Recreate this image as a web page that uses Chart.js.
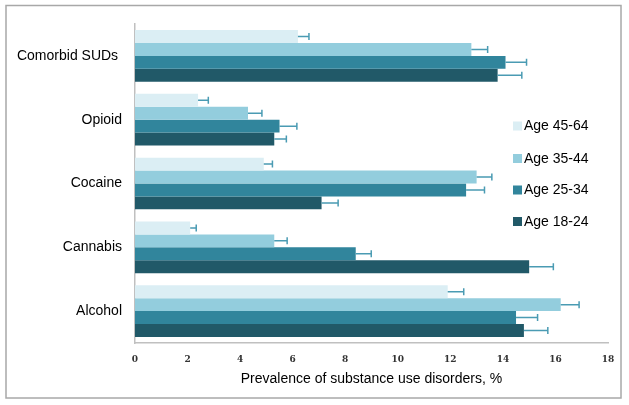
<!DOCTYPE html>
<html>
<head>
<meta charset="utf-8">
<script src="https://cdn.jsdelivr.net/npm/chart.js@4.4.1/dist/chart.umd.min.js"></script>
<style>
  html, body { margin: 0; padding: 0; background: #ffffff; }
  canvas { display: block; }
</style>
</head>
<body>
<canvas id="c" width="629" height="405"></canvas>
<script>
// ---- data ----
const categories = ["Comorbid SUDs ", "Opioid", "Cocaine", "Cannabis", "Alcohol"];
const seriesLabels = ["Age 45-64", "Age 35-44", "Age 25-34", "Age 18-24"];
const age4564 = [6.2, 2.4, 4.9, 2.1, 11.9];
const age3544 = [12.8, 4.3, 13.0, 5.3, 16.2];
const age2534 = [14.1, 5.5, 12.6, 8.4, 14.5];
const age1824 = [13.8, 5.3, 7.1, 15.0, 14.8];
const err4564 = [0.42, 0.39, 0.33, 0.23, 0.61];
const err3544 = [0.62, 0.53, 0.58, 0.49, 0.70];
const err2534 = [0.80, 0.66, 0.70, 0.59, 0.82];
const err1824 = [0.92, 0.46, 0.63, 0.92, 0.91];
const xTicks = [0, 2, 4, 6, 8, 10, 12, 14, 16, 18];

const colors = ["#DBEEF4", "#93CDDD", "#31859C", "#215968"];
const values = [age4564, age3544, age2534, age1824];
const errors = [err4564, err3544, err2534, err1824];

const frame = {
  id: 'frame',
  beforeDraw(chart) {
    const ctx = chart.ctx;
    ctx.save();
    ctx.fillStyle = '#ffffff';
    ctx.fillRect(0, 0, chart.width, chart.height);
    ctx.strokeStyle = '#a8a8a8';
    ctx.lineWidth = 1.5;
    ctx.strokeRect(6, 5.5, 615, 392.5);
    ctx.restore();
  }
};

const errorBars = {
  id: 'errorBars',
  afterDatasetsDraw(chart) {
    const ctx = chart.ctx;
    const xs = chart.scales.x;
    ctx.save();
    ctx.strokeStyle = '#4A9BB3';
    ctx.lineWidth = 1.5;
    chart.data.datasets.forEach((ds, i) => {
      const meta = chart.getDatasetMeta(i);
      meta.data.forEach((bar, j) => {
        const v = ds.data[j];
        const e = errors[i][j];
        const xe = xs.getPixelForValue(v + e);
        const y = bar.y;
        ctx.beginPath();
        ctx.moveTo(bar.x, y);
        ctx.lineTo(xe, y);
        ctx.moveTo(xe, y - 3.5);
        ctx.lineTo(xe, y + 3.5);
        ctx.stroke();
      });
    });
    ctx.restore();
  }
};

const customLegend = {
  id: 'customLegend',
  afterDraw(chart) {
    const ctx = chart.ctx;
    const ys = [126, 158.5, 190, 221.5];
    ctx.save();
    ctx.font = '14px "Liberation Sans", Arial, sans-serif';
    ctx.textBaseline = 'middle';
    ctx.textAlign = 'left';
    chart.data.datasets.forEach((ds, i) => {
      const y = ys[i];
      ctx.fillStyle = ds.backgroundColor;
      ctx.fillRect(513, y - 4.5, 9, 9);
      ctx.fillStyle = '#000000';
      ctx.fillText(ds.label, 524, y + 0.5);
    });
    ctx.restore();
  }
};

new Chart(document.getElementById('c'), {
  type: 'bar',
  data: {
    labels: categories,
    datasets: seriesLabels.map((lab, i) => ({
      label: lab,
      data: values[i],
      backgroundColor: colors[i],
      borderWidth: 0,
      categoryPercentage: 0.81,
      barPercentage: 1.0
    }))
  },
  options: {
    indexAxis: 'y',
    responsive: false,
    animation: false,
    devicePixelRatio: 1,
    layout: { padding: { left: 0, right: 21, top: 24, bottom: 0 } },
    plugins: {
      legend: { display: false },
      tooltip: { enabled: false }
    },
    scales: {
      x: {
        min: 0,
        max: 18,
        afterBuildTicks(scale) { scale.ticks = xTicks.map(v => ({ value: v })); },
        afterFit(scale) { scale.height = 62; },
        grid: { display: false },
        border: { display: true, color: '#c0c0c0', width: 1.5 },
        ticks: {
          padding: 3,
          color: '#333333',
          font: { family: '"DejaVu Serif", serif', size: 9, weight: 'bold' },
          maxRotation: 0
        },
        title: {
          display: true,
          text: 'Prevalence of substance use disorders, %',
          color: '#000000',
          font: { family: '"Liberation Sans", Arial, sans-serif', size: 14 },
          padding: { top: 0, bottom: 17 }
        }
      },
      y: {
        afterFit(scale) { scale.width = 135; },
        grid: { display: false },
        border: { display: true, color: '#c0c0c0', width: 1.5 },
        ticks: {
          padding: 5,
          color: '#000000',
          font: { family: '"Liberation Sans", Arial, sans-serif', size: 14 }
        }
      }
    }
  },
  plugins: [frame, errorBars, customLegend]
});
</script>
</body>
</html>
